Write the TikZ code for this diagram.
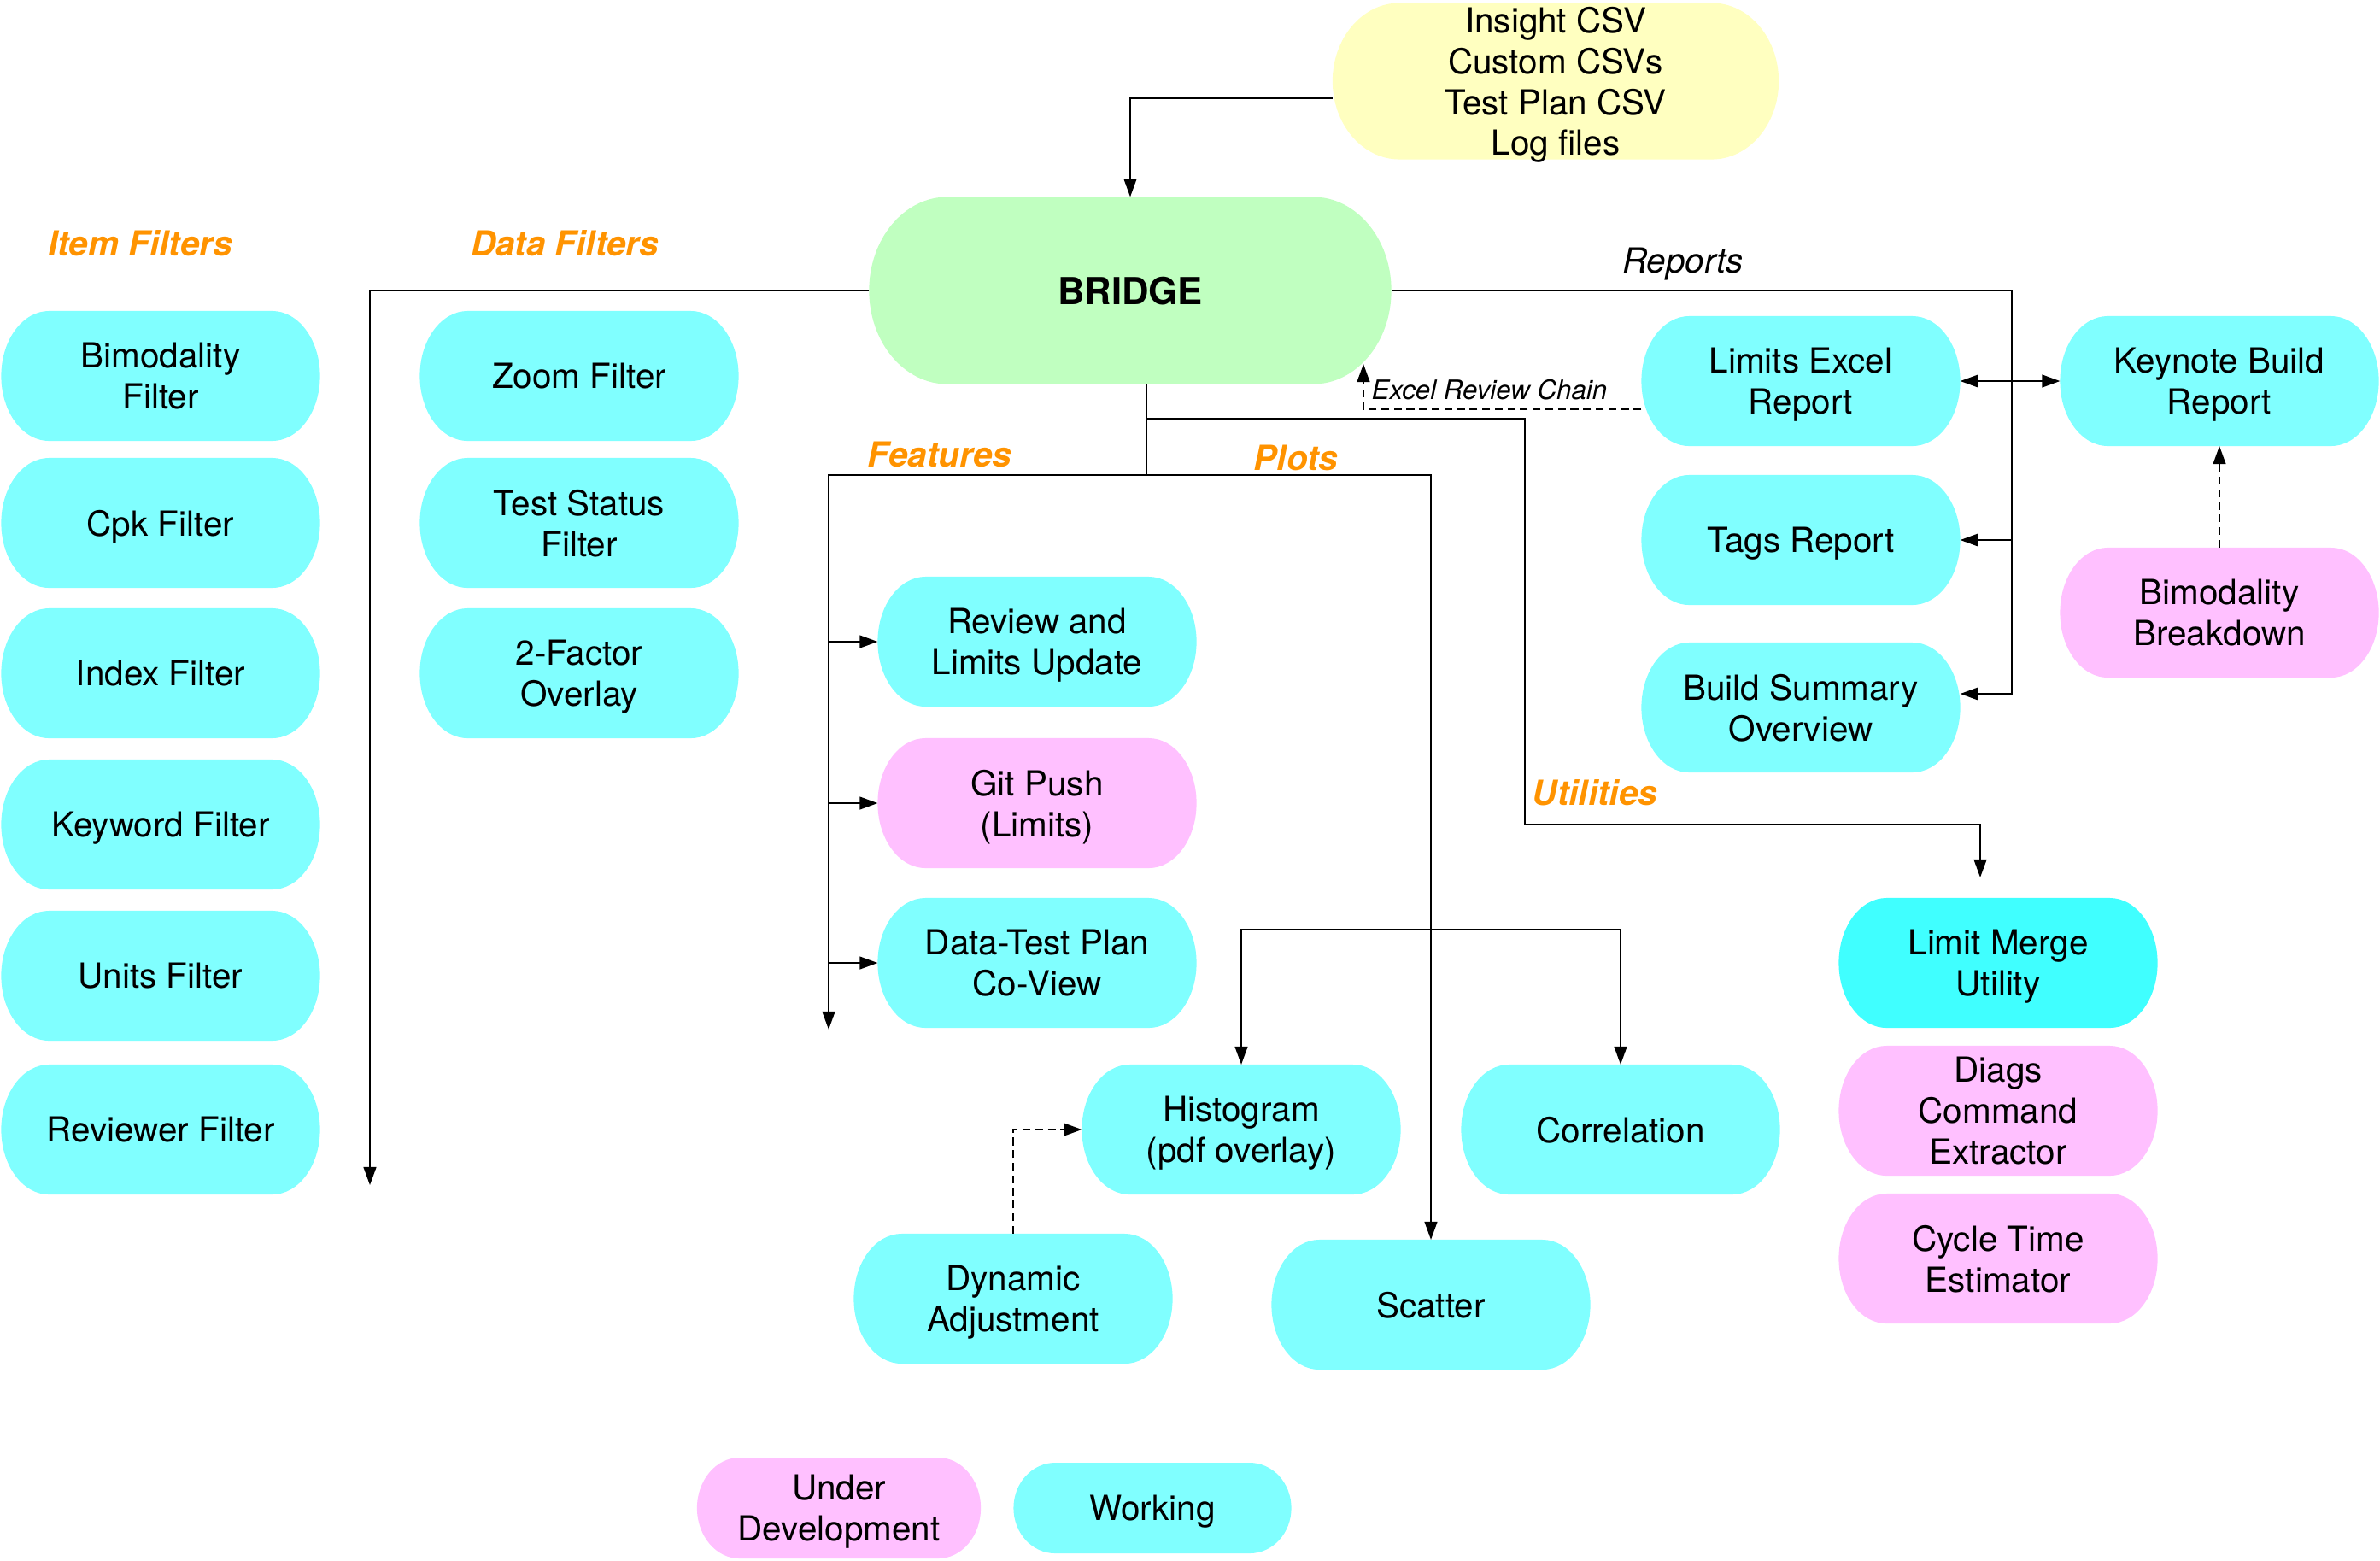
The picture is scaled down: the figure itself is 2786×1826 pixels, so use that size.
\documentclass[tikz,border=0pt]{standalone}
\usepackage{fontspec}
\setmainfont{TeX Gyre Heros}
\usetikzlibrary{arrows.meta}
\definecolor{cyanbox}{HTML}{80FFFF}
\definecolor{brightcyan}{HTML}{40FFFF}
\definecolor{pinkbox}{HTML}{FFC0FF}
\definecolor{greenbox}{HTML}{C0FFC0}
\definecolor{yellowbox}{HTML}{FFFFC0}
\definecolor{orangelbl}{HTML}{FF9300}
\makeatletter
\newdimen\pillxa \newdimen\pillya \newdimen\pillxb \newdimen\pillyb
\newdimen\pillrx \newdimen\pillry \newdimen\pillxl \newdimen\pillxr
\pgfdeclareshape{pill}{%
  \inheritsavedanchors[from=rectangle]%
  \inheritanchorborder[from=rectangle]%
  \inheritanchor[from=rectangle]{center}%
  \inheritanchor[from=rectangle]{north}%
  \inheritanchor[from=rectangle]{south}%
  \inheritanchor[from=rectangle]{east}%
  \inheritanchor[from=rectangle]{west}%
  \inheritanchor[from=rectangle]{north east}%
  \inheritanchor[from=rectangle]{north west}%
  \inheritanchor[from=rectangle]{south east}%
  \inheritanchor[from=rectangle]{south west}%
  \inheritanchor[from=rectangle]{base}%
  \inheritanchor[from=rectangle]{mid}%
  \inheritanchor[from=rectangle]{text}%
  \backgroundpath{%
    \southwest \pillxa=\pgf@x \pillya=\pgf@y
    \northeast \pillxb=\pgf@x \pillyb=\pgf@y
    \pillrx=\pillxb \advance\pillrx by -\pillxa \pillrx=0.15\pillrx
    \pillry=\pillyb \advance\pillry by -\pillya \pillry=0.5\pillry
    \pillxl=\pillxa \advance\pillxl by \pillrx
    \pillxr=\pillxb \advance\pillxr by -\pillrx
    \pgfpathmoveto{\pgfqpoint{\pillxl}{\pillyb}}%
    \pgfpathlineto{\pgfqpoint{\pillxr}{\pillyb}}%
    \pgfpatharc{90}{-90}{\pillrx and \pillry}%
    \pgfpathlineto{\pgfqpoint{\pillxl}{\pillya}}%
    \pgfpatharc{270}{90}{\pillrx and \pillry}%
    \pgfpathclose
  }%
}
\makeatother
\newcommand\nodefnt{\fontsize{11.5pt}{13.6pt}\selectfont}
\tikzset{
  box/.style={shape=pill, fill=cyanbox, draw=none, minimum width=3.73cm, minimum height=1.52cm,
    align=center, inner sep=0pt, outer sep=0pt, font=\nodefnt, text depth=0pt},
  devbox/.style={box, fill=pinkbox},
  srcbox/.style={box, fill=yellowbox, minimum width=5.22cm, minimum height=1.83cm},
  hubbox/.style={box, fill=greenbox, minimum width=6.11cm, minimum height=2.19cm,
    font=\fontsize{12.4pt}{14pt}\selectfont\bfseries},
  cat/.style={inner sep=0pt, text=orangelbl, font=\fontsize{11.5pt}{13.6pt}\selectfont\bfseries\itshape, anchor=base},
  rlbl/.style={inner sep=0pt, font=\nodefnt\itshape, anchor=base},
  smalllbl/.style={inner sep=0pt, font=\fontsize{8.9pt}{10pt}\selectfont\itshape, anchor=base west},
  conn/.style={line width=0.6pt},
  tip/.tip={Triangle[length=6pt,width=4.2pt]},
  arr/.style={conn, -tip},
  biarr/.style={conn, tip-tip},
  darr/.style={arr, dash pattern=on 2.6pt off 1.6pt},
}
\begin{document}
\begin{tikzpicture}[x=0.01cm,y=-0.01cm]
\useasboundingbox (0,0) rectangle (2786,1826);

% nodes
\node[srcbox] (src) at (1821,95) {Insight CSV\\Custom CSVs\\Test Plan CSV\\Log files};
\node[hubbox] (bridge) at (1323,340) {BRIDGE};

\node[box] (bimf) at (188,440) {Bimodality\\Filter};
\node[box] (cpk) at (188,612) {Cpk Filter};
\node[box] (index) at (188,788) {Index Filter};
\node[box] (keyword) at (188,965) {Keyword Filter};
\node[box] (units) at (188,1142) {Units Filter};
\node[box] (reviewer) at (188,1322) {Reviewer Filter};

\node[box] (zoomf) at (678,440) {Zoom Filter};
\node[box] (status) at (678,612) {Test Status\\Filter};
\node[box] (twofac) at (678,788) {2-Factor\\Overlay};

\node[box] (review) at (1214,751) {Review and\\Limits Update};
\node[devbox] (git) at (1214,940) {Git Push\\(Limits)};
\node[box] (dtp) at (1214,1127) {Data-Test Plan\\Co-View};

\node[box] (hist) at (1453,1322) {Histogram\\(pdf overlay)};
\node[box] (corr) at (1897,1322) {Correlation};
\node[box] (scatter) at (1675,1527) {Scatter};
\node[box] (dyn) at (1186,1520) {Dynamic\\Adjustment};

\node[box] (lexcel) at (2108,446) {Limits Excel\\Report};
\node[box] (tags) at (2108,632) {Tags Report};
\node[box] (bso) at (2108,828) {Build Summary\\Overview};
\node[box] (keynote) at (2598,446) {Keynote Build\\Report};
\node[devbox] (bbreak) at (2598,717) {Bimodality\\Breakdown};

\node[box, fill=brightcyan] (lmu) at (2339,1127) {Limit Merge\\Utility};
\node[devbox] (diags) at (2339,1300) {Diags\\Command\\Extractor};
\node[devbox] (cycle) at (2339,1473) {Cycle Time\\Estimator};

\node[devbox, minimum width=3.32cm, minimum height=1.18cm] (underdev) at (982,1765) {Under\\Development};
\node[box, minimum width=3.25cm, minimum height=1.06cm] (working) at (1349,1765) {Working};

% labels
\node[cat] (lif) at (164,299) {Item Filters};
\node[cat] (ldf) at (661,299) {Data Filters};
\node[cat] (lfe) at (1100,546) {Features};
\node[cat] (lpl) at (1517,550) {Plots};
\node[cat] (lut) at (1867,942) {Utilities};
\node[rlbl] (lrep) at (1970,319) {Reports};
\node[smalllbl] (lerc) at (1605,467) {Excel Review Chain};

% coordinates
\coordinate (ifend) at (433,1387);
\coordinate (rt) at (2355,812);
\coordinate (erc) at (1596,426);
\coordinate (bb) at (1342,450);
\coordinate (ft) at (1342,556);
\coordinate (fend) at (970,1205);
\coordinate (ut) at (1342,490);
\coordinate (uc) at (1785,965);
\coordinate (uend) at (2318,1027);
\coordinate (hc) at (1675,1088);

% connectors
\draw[arr] ([yshift=-0.2cm]src.west) -| (bridge.north);
\draw[arr] (bridge.west) -| (ifend);
\draw[arr] (bridge.east) -| (rt) -- (rt -| bso.east);
\draw[biarr] (lexcel.east) -- (keynote.west);
\draw[arr] (tags.east -| rt) -- (tags.east);
\draw[darr] ([yshift=-0.33cm]lexcel.west) -| (erc);
\draw[darr] (bbreak.north) -- (keynote.south);

\draw[conn] (bb) -- (ft);
\draw[arr] (ft) -| (fend);
\draw[arr] (review.west -| fend) -- (review.west);
\draw[arr] (git.west -| fend) -- (git.west);
\draw[arr] (dtp.west -| fend) -- (dtp.west);
\draw[arr] (ft) -| (scatter.north);
\draw[arr] (ut) -| (uc) -| (uend);
\draw[arr] (hc) -| (hist.north);
\draw[arr] (hc) -| (corr.north);
\draw[darr] (dyn.north) |- (hist.west);
\end{tikzpicture}
\end{document}
